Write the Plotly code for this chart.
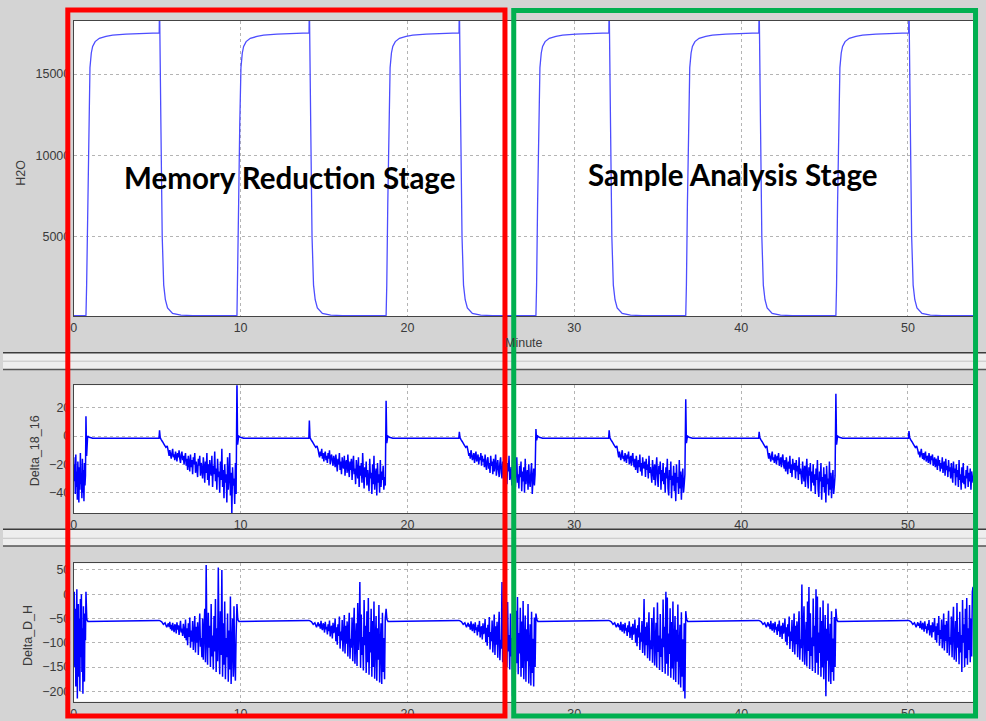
import numpy as np
import plotly.graph_objects as go

# ---------------- data (minutes) ----------------
X_MAX = 53.9
RISE_T = [0.73, 9.78, 18.72, 27.70, 36.68, 45.68]
DROP_T = [5.12, 14.10, 23.09, 32.07, 41.06, 50.04]

# H2O (ppm): shape after each rise / after each drop
H2O_BASE = 120
H2O_RISE_DT = [0, 0.04, 0.10, 0.17, 0.24, 0.32, 0.40, 0.55, 0.80, 1.20, 1.60, 2.40, 3.30]
H2O_RISE_V = [120, 2000, 7000, 12000, 15400, 16300, 16700, 17000, 17200, 17320, 17400, 17460, 17500]
H2O_DROP_DT = [0, 0.01, 0.03, 0.10, 0.18, 0.27, 0.37, 0.50, 0.80, 1.30, 2.00]
H2O_DROP_V = [17540, 18500, 18500, 12000, 5000, 2000, 1100, 600, 250, 150, 125]

# Delta_18_16 (permil)
D18_FLAT = -1.6
D18_SPIKE = [14, 40, 25, 5, 26, 30]
D18_DIP = [-14, -6, -5, -3, -5, -6]
D18_BUMP = [4, 11, 3, 4, 3, 3.5]
D18_DROP_DT = [0.02, 0.06, 0.12, 0.20, 0.30, 0.40, 0.48]
D18_DROP_V = [None, -1, -2.5, -4, -6, -8, -7]
D18_INIT = [-15, -32, -20, -41, -13, -36, -25, -45, -18, -30, -47, -22, -38, -12, -34, -27, -44, -16, -40, -24,
            -46, -19, -35, -28]
D18_NOISE = [
    [-11, -14, -10, -13, -16, -12, -9, -15, -13, -17, -11, -14, -18, -12, -15, -10, -16, -19, -13, -11, -17, -14, -20, -15,
     -12, -21, -16, -24, -14, -19, -25, -13, -22, -17, -27, -15, -20, -12, -26, -18, -23, -29, -16, -21, -14, -28, -19, -24,
     -30, -15, -22, -33, -18, -26, -12, -31, -20, -35, -17, -24, -28, -14, -36, -21, -27, -11, -32, -23, -38, -16, -29, -25,
     -40, -18, -31, -9, -36, -24, -44, -20, -33, -27, -47, -15, -38, -29, -12, -42, -26, -55, -22, -35, -30, -48, -19, -41],
    [-10, -13, -15, -11, -14, -9, -16, -12, -18, -13, -11, -17, -14, -19, -12, -16, -10, -20, -15, -13, -18, -21, -14, -17,
     -22, -13, -19, -25, -16, -20, -12, -24, -18, -27, -15, -21, -23, -14, -28, -19, -17, -26, -13, -22, -29, -18, -24, -16,
     -31, -20, -14, -27, -23, -34, -17, -25, -30, -15, -36, -21, -28, -19, -33, -12, -26, -37, -22, -29, -18, -35, -24, -31,
     -39, -16, -30, -26, -41, -20, -34, -14, -38, -28, -23, -42, -19, -33, -27, -40, -17, -36, -25, -31, -21, -38, -29, -35],
    [-11, -14, -12, -16, -10, -13, -17, -15, -12, -19, -14, -11, -18, -16, -13, -20, -15, -17, -12, -21, -14, -18, -16, -22,
     -13, -20, -24, -17, -15, -23, -19, -26, -14, -21, -18, -27, -16, -25, -20, -13, -28, -22, -17, -24, -29, -19, -15, -26,
     -30, -18, -23, -32, -16, -27, -21, -34, -19, -25, -14, -31, -28, -22, -35, -17, -26, -30, -20, -36, -24, -15, -33, -27,
     -37, -21, -29, -18, -39, -25, -32, -22, -40, -16, -34, -28, -24, -38, -20, -31, -36, -26, -19, -41, -30, -23, -35, -27],
    [-12, -15, -11, -14, -17, -13, -10, -16, -14, -18, -12, -15, -19, -13, -16, -11, -20, -17, -14, -21, -15, -12, -19, -22,
     -16, -24, -14, -20, -26, -17, -22, -13, -25, -19, -28, -15, -21, -23, -18, -29, -16, -24, -20, -30, -14, -26, -22, -27,
     -33, -17, -25, -31, -20, -35, -23, -15, -29, -36, -21, -27, -18, -38, -24, -32, -19, -34, -26, -40, -22, -30, -16, -37,
     -42, -24, -31, -18, -44, -28, -35, -21, -39, -26, -46, -20, -33, -29, -41, -17, -37, -25, -45, -30, -23, -40, -34, -27],
    [-13, -16, -12, -15, -18, -14, -11, -17, -15, -19, -13, -16, -20, -14, -17, -12, -21, -18, -15, -22, -16, -13, -20, -23,
     -17, -25, -15, -21, -27, -18, -23, -14, -26, -20, -29, -16, -22, -24, -19, -30, -17, -25, -21, -31, -15, -27, -23, -28,
     -34, -18, -26, -32, -21, -36, -24, -16, -30, -37, -22, -28, -19, -39, -25, -33, -20, -35, -27, -41, -23, -31, -17, -38,
     -43, -25, -32, -19, -45, -29, -36, -22, -40, -27, -47, -21, -34, -30, -42, -18, -38, -26, -44, -31, -24, -41, -35, -28],
    [-10, -13, -11, -15, -12, -9, -14, -16, -12, -17, -13, -11, -18, -15, -14, -19, -12, -16, -20, -14, -17, -13, -21, -18,
     -15, -22, -16, -19, -24, -14, -21, -17, -25, -19, -23, -15, -26, -20, -18, -28, -16, -24, -21, -29, -17, -25, -22, -30,
     -19, -27, -33, -18, -26, -23, -35, -20, -29, -24, -36, -17, -31, -27, -38, -22, -33, -19, -34, -28, -37, -24, -30, -21,
     -36, -26, -32, -23, -38, -25, -29, -33],
]

# Delta_D_H (permil)
DH_FLAT_START = -56
DH_FLAT_END = -54
DH_RISE_UP = [5, -20, -30, -40, -35, -30]
DH_DROP_DT = [0.06, 0.15, 0.25, 0.35, 0.45]
DH_DROP_V = [-55, -57, -62, -59, -68]
DH_INIT = [-60, 5, -150, -30, -190, -80, 10, -215, -100, -20, -170, -50, -200, -10, -130, 0, -160, -70, -205, -25,
           -120, -180, -40, -95]
DH_NOISE = [
    [-60, -68, -57, -72, -63, -75, -59, -70, -78, -62, -66, -81, -58, -73, -64, -84, -69, -55, -79, -71, -86, -61, -76, -90,
     -52, -95, -70, -105, -60, -88, -48, -110, -75, -98, -55, -115, -82, -45, -120, -67, -100, -58, -125, -78, -40, -108, -90, -130,
     -50, -135, -72, -30, -140, 60, -95, -145, -38, -110, -65, -150, -20, -128, -85, -155, -45, -118, -10, -160, -70, -138, 55, -100,
     -165, -35, -125, 50, -170, -60, -145, -15, -175, -90, -130, -40, -180, -75, -155, -5, -185, -110, -50, -170, -25, -140, -178, -85],
    [-58, -66, -61, -71, -55, -69, -74, -60, -64, -79, -57, -72, -67, -83, -62, -76, -54, -87, -70, -65, -91, -59, -80, -73,
     -50, -97, -68, -104, -62, -86, -46, -112, -77, -95, -53, -118, -84, -43, -122, -65, -102, -56, -128, -75, -38, -133, -92, -110,
     -48, -138, -70, -28, -143, -96, -60, -148, -18, -115, -82, 25, -152, -42, -125, -88, -157, -12, -105, -65, -162, -35, -140, -8,
     -166, -78, -120, -30, -170, -55, -150, -15, -174, -98, -45, -178, -70, -135, -22, -182, -110, -60, -185, -38, -160, -90, -175, -50],
    [-59, -67, -62, -73, -56, -70, -76, -61, -65, -80, -58, -74, -68, -85, -63, -77, -55, -89, -71, -66, -93, -60, -82, -75,
     -51, -99, -69, -106, -63, -88, -47, -114, -78, -97, -54, -120, -86, -42, -125, -66, -104, -57, -131, -76, -36, -136, -94, -112,
     25, -140, -72, -26, -146, -98, -58, -150, -16, -118, -84, -155, -40, -128, -90, -210, -10, -108, -66, -160, -34, -142, -6, -165,
     -80, -122, -28, -170, -56, -152, -14, -175, -100, -44, -180, -72, -138, -20, -184, -112, -62, -188, -36, -162, -92, -190, -48, -150],
    [-60, -68, -63, -74, -57, -71, -77, -62, -66, -81, -59, -75, -69, -86, -64, -78, -56, -90, -72, -67, -94, -61, -83, -76,
     -52, -100, -70, -107, -64, -89, -48, -115, -79, -98, -55, -121, -87, -10, -126, -67, -105, -58, -132, -77, -37, -137, -95, -113,
     -49, -141, -73, -27, -147, -99, -59, -151, -17, -119, -85, -156, -41, -129, -91, -160, -11, -109, -67, -164, 5, -143, -7, -168,
     -81, -123, -29, -172, -57, -153, -15, -176, -101, -45, -181, -73, -139, -21, -186, -113, -63, -192, -37, -170, -93, -200, -60, -215],
    [-58, -66, -61, -72, -55, -69, -75, -60, -64, -79, -57, -73, -67, -84, -62, -76, -54, -88, -70, -65, -92, -59, -81, -74,
     -50, -98, -68, -105, -62, -87, -46, -113, -77, -96, -53, -119, -85, -40, -124, -65, -103, -56, -130, -75, -35, -135, -93, -111,
     20, -139, -71, -25, -145, -97, -57, -149, -15, -117, 15, -154, -39, -127, -89, -158, -9, -107, -65, -162, 10, -141, -5, -166,
     -79, -121, -27, -170, -55, -151, -13, -175, -99, -43, -210, -71, -137, -19, -180, -111, -61, -185, -35, -160, -91, -178, -47, -150],
    [-58, -65, -60, -70, -55, -67, -73, -59, -63, -77, -56, -71, -66, -81, -61, -74, -53, -85, -68, -64, -89, -58, -78, -72,
     -49, -94, -66, -100, -60, -84, -45, -106, -74, -92, -52, -111, -81, -40, -116, -63, -97, -55, -121, -72, -34, -126, -88, -104,
     -46, -130, -68, -26, -135, -92, -55, -139, -18, -110, -78, -144, -36, -120, -84, -160, -12, -100, -62, -150, -30, -132, -8, -145,
     -70, -115, -22, -140, -50, -128, 5, 15],
]

X_TICKS = [0, 10, 20, 30, 40, 50]
H2O_TICKS = [5000, 10000, 15000]
D18_TICKS = [-40, -20, 0, 20]
DH_TICKS = [-200, -150, -100, -50, 0, 50]


# ---------------- build series ----------------
def spread(t0, t1, vals):
    return list(np.linspace(t0, t1, len(vals))), list(vals)


def build_h2o():
    t, v = [0.0], [H2O_BASE]
    for r, d in zip(RISE_T, DROP_T):
        t += [r + x for x in H2O_RISE_DT]
        v += H2O_RISE_V
        t += [d + x for x in H2O_DROP_DT]
        v += H2O_DROP_V
    t.append(X_MAX)
    v.append(H2O_BASE)
    return t, v


def build_d18():
    t, v = spread(0.0, RISE_T[0] - 0.03, D18_INIT)
    for i, (r, d) in enumerate(zip(RISE_T, DROP_T)):
        t += [r, r + 0.04, r + 0.10, r + 0.20, r + 0.40, d - 0.01]
        v += [D18_SPIKE[i], D18_DIP[i], 0, -0.8, D18_FLAT, D18_FLAT]
        for dt, val in zip(D18_DROP_DT, D18_DROP_V):
            t.append(d + dt)
            v.append(D18_BUMP[i] if val is None else val)
        end = RISE_T[i + 1] - 0.05 if i + 1 < len(RISE_T) else X_MAX
        nt, nv = spread(d + 0.55, end, D18_NOISE[i])
        t += nt
        v += nv
    return t, v


def build_dh():
    t, v = spread(0.0, RISE_T[0] - 0.03, DH_INIT)
    for i, (r, d) in enumerate(zip(RISE_T, DROP_T)):
        t += [r, r + 0.05, r + 0.12, d - 0.01]
        v += [DH_RISE_UP[i], -52, DH_FLAT_START, DH_FLAT_END]
        t += [d + x for x in DH_DROP_DT]
        v += DH_DROP_V
        end = RISE_T[i + 1] - 0.05 if i + 1 < len(RISE_T) else X_MAX
        nt, nv = spread(d + 0.55, end, DH_NOISE[i])
        t += nt
        v += nv
    return t, v


h_t, h_v = build_h2o()
a_t, a_v = build_d18()
b_t, b_v = build_dh()

# ---------------- figure ----------------
W, H = 986, 721


def px(x):
    return x / W


def py(y):
    return 1 - y / H


fig = go.Figure()
fig.add_trace(go.Scatter(x=h_t, y=h_v, mode="lines", line=dict(color="#4d4dff", width=1.3),
                         xaxis="x", yaxis="y", showlegend=False))
fig.add_trace(go.Scatter(x=a_t, y=a_v, mode="lines", line=dict(color="#0000ff", width=1.5, simplify=False),
                         xaxis="x2", yaxis="y2", showlegend=False))
fig.add_trace(go.Scatter(x=b_t, y=b_v, mode="lines", line=dict(color="#0000ff", width=1.5, simplify=False),
                         xaxis="x3", yaxis="y3", showlegend=False))

tick_font = dict(family="Liberation Sans, Arial, sans-serif", size=12.5, color="#3a3a3a")
grid = dict(showgrid=True, gridcolor="#b4b4b4", griddash="dot", gridwidth=1,
            showline=True, linecolor="#444444", linewidth=1, mirror=True,
            zeroline=False, ticks="", tickfont=tick_font, tickformat="d")

xdom = [px(71), px(973)]
doms = [[py(316.7), py(20.7)], [py(514), py(385.7)], [py(702.7), py(564)]]
yranges = [[80, 18290], [-54.6, 36], [-221.4, 63.8]]
yticks = [H2O_TICKS, D18_TICKS, DH_TICKS]

layout = dict(width=W, height=H, margin=dict(l=0, r=0, t=0, b=0),
              paper_bgcolor="#d4d4d4", plot_bgcolor="#ffffff", showlegend=False)
for i in range(3):
    sx = "" if i == 0 else str(i + 1)
    layout["xaxis" + sx] = dict(domain=xdom, range=[0, X_MAX], tickvals=X_TICKS,
                                anchor="y" + sx, **grid)
    layout["yaxis" + sx] = dict(domain=doms[i], range=yranges[i], tickvals=yticks[i],
                                anchor="x" + sx, **grid)
fig.update_layout(**layout)

shapes = []
# separator bands between panels
for top, mid, bot in [(353.3, 361.7, 370.0), (530.0, 539.0, 546.7)]:
    shapes.append(dict(type="rect", xref="paper", yref="paper", x0=0, x1=1, y0=py(bot), y1=py(top),
                       fillcolor="#eeeeee", line=dict(width=0), layer="below"))
    shapes.append(dict(type="line", xref="paper", yref="paper", x0=0, x1=1, y0=py(top), y1=py(top),
                       line=dict(color="#3c3c3c", width=1.5), layer="below"))
    shapes.append(dict(type="line", xref="paper", yref="paper", x0=0, x1=1, y0=py(mid), y1=py(mid),
                       line=dict(color="#c4c4c4", width=1), layer="below"))
    shapes.append(dict(type="line", xref="paper", yref="paper", x0=0, x1=1, y0=py(bot), y1=py(bot),
                       line=dict(color="#555555", width=1.5), layer="below"))
# stage boxes
shapes.append(dict(type="rect", xref="paper", yref="paper", x0=px(65), x1=px(503.5), y0=py(717), y1=py(10),
                   line=dict(color="#ff0000", width=5), fillcolor="rgba(0,0,0,0)", layer="above"))
shapes.append(dict(type="rect", xref="paper", yref="paper", x0=px(512.3), x1=px(975.5), y0=py(717), y1=py(10.5),
                   line=dict(color="#00b050", width=5), fillcolor="rgba(0,0,0,0)", layer="above"))
fig.update_layout(shapes=shapes)

lab_font = dict(family="Liberation Sans, Arial, sans-serif", size=12.5, color="#3a3a3a")
stage_font = dict(family="Lato, Open Sans, sans-serif", size=29.5, color="#000000")
ann = [
    dict(text="H2O", x=px(18), y=py(173), textangle=-90, font=lab_font),
    dict(text="Delta_18_16", x=px(32), y=py(451), textangle=-90, font=lab_font),
    dict(text="Delta_D_H", x=px(25), y=py(636), textangle=-90, font=lab_font),
    dict(text="Minute", x=px(523), y=py(343), font=lab_font),
    dict(text="<b>Memory Reduction Stage</b>", x=px(287), y=py(178), font=stage_font),
    dict(text="<b>Sample Analysis Stage</b>", x=px(732), y=py(175), font=stage_font),
]
for a in ann:
    a.update(xref="paper", yref="paper", showarrow=False, xanchor="center", yanchor="middle")
fig.update_layout(annotations=ann)

fig.write_html("out.html", config={"displayModeBar": False},
               post_script="document.body.style.margin='0';document.body.style.overflow='hidden';")
